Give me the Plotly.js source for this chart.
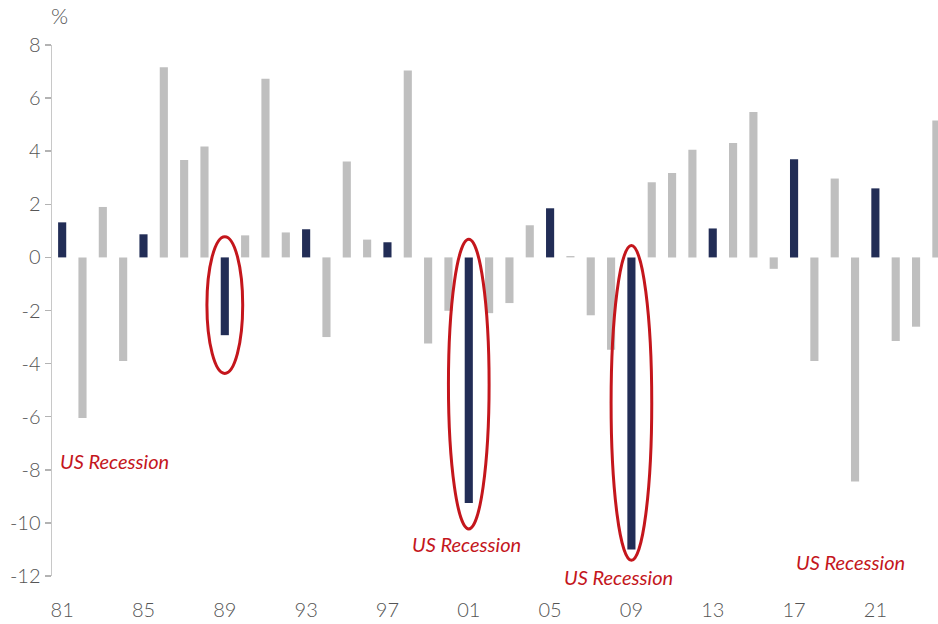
<!DOCTYPE html>
<html>
<head>
<meta charset="utf-8">
<script src="https://cdn.plot.ly/plotly-3.0.1.min.js"></script>
<style>
  html, body { margin: 0; padding: 0; background: #ffffff; }
  #chart { width: 938px; height: 624px; }
</style>
</head>
<body>
<div id="chart"></div>
<script>
// Annual change, %, 1981-2024
const years = [
  1981, 1982, 1983, 1984, 1985, 1986, 1987, 1988, 1989, 1990, 1991,
  1992, 1993, 1994, 1995, 1996, 1997, 1998, 1999, 2000, 2001, 2002,
  2003, 2004, 2005, 2006, 2007, 2008, 2009, 2010, 2011, 2012, 2013,
  2014, 2015, 2016, 2017, 2018, 2019, 2020, 2021, 2022, 2023, 2024
];
const values = [
  1.32, -6.05, 1.9, -3.9, 0.87, 7.16, 3.67, 4.18, -2.93, 0.83, 6.73,
  0.94, 1.06, -3.0, 3.61, 0.67, 0.57, 7.04, -3.24, -2.01, -9.25, -2.1,
  -1.72, 1.21, 1.85, 0.05, -2.18, -3.48, -11.0, 2.83, 3.18, 4.05, 1.09,
  4.31, 5.48, -0.43, 3.70, -3.9, 2.97, -8.44, 2.6, -3.15, -2.61, 5.16
];
// Years drawn in the dark colour
const highlightYears = [1981, 1985, 1989, 1993, 1997, 2001, 2005, 2009, 2013, 2017, 2021];
// Bottom axis labels
const tickYears = [1981, 1985, 1989, 1993, 1997, 2001, 2005, 2009, 2013, 2017, 2021];
const tickLabels = ['81', '85', '89', '93', '97', '01', '05', '09', '13', '17', '21'];
// Left axis ticks
const yTicks = [-12, -10, -8, -6, -4, -2, 0, 2, 4, 6, 8];
const yTickLabels = ['-12', '-10', '-8', '-6', '-4', '-2', '0', '2', '4', '6', '8'];
// Years circled as recessions
const recessionYears = [1989, 2001, 2009];
const recessionLabel = 'US Recession';

const NAVY = '#222d56';
const GREY = '#bfbfbf';
const RED = '#c4161c';
const TEXT = '#555555';
const AXIS = '#b3b3b3';

const xRange = [1980.5, 2024.08];
const yRange = [-12, 8];

const barColors = years.map(y => highlightYears.includes(y) ? NAVY : GREY);

// ring geometry around each circled bar (half-width in years, space above zero and below the bar)
const ringStyle = {
  1989: {half: 0.88, above: 0.78, below: 1.44},
  2001: {half: 1.0, above: 0.68, below: 0.98},
  2009: {half: 1.0, above: 0.45, below: 0.41}
};
const shapes = recessionYears.map(y => {
  const v = values[years.indexOf(y)];
  const s = ringStyle[y];
  return {
    type: 'circle', xref: 'x', yref: 'y', layer: 'above',
    x0: y - s.half, x1: y + s.half,
    y0: v - s.below, y1: s.above,
    line: {color: RED, width: 3}
  };
});

// label placement (data coordinates, with a pixel nudge where needed)
const labelSpots = [
  {x: 1983.57, y: -7.65, shift: 0},
  {x: 2000.9, y: -10.81, shift: 0},
  {x: 2008.36, y: -11.6, shift: -12},
  {x: 2019.79, y: -11.48, shift: 0}
];
const annotations = labelSpots.map(p => ({
  x: p.x, y: p.y, xref: 'x', yref: 'y', yshift: p.shift,
  text: recessionLabel, showarrow: false,
  xanchor: 'center', yanchor: 'middle',
  font: {family: 'Lato, "Open Sans", sans-serif', size: 20, color: RED, style: 'italic'}
}));
annotations.push({
  x: 0.009, y: 1.055, xref: 'paper', yref: 'paper',
  text: '%', showarrow: false, xanchor: 'center', yanchor: 'middle',
  font: {family: 'Lato, sans-serif', size: 22, color: TEXT, weight: 300}
});

const boundaryTicks = tickYears.slice(1).map(y => y - 0.5);

const trace = {
  type: 'bar',
  x: years,
  y: values,
  marker: {color: barColors, line: {width: 0}},
  hoverinfo: 'x+y'
};

const layout = {
  width: 938,
  height: 624,
  margin: {l: 52, r: 0, t: 45, b: 48, pad: 0},
  paper_bgcolor: '#ffffff',
  plot_bgcolor: '#ffffff',
  showlegend: false,
  bargap: 0.6,
  font: {family: 'Lato, sans-serif', color: TEXT},
  xaxis: {
    type: 'linear',
    range: xRange,
    tickmode: 'array',
    tickvals: tickYears,
    ticktext: tickLabels,
    ticks: '',
    showline: false,
    showgrid: false,
    zeroline: false,
    ticklabelstandoff: 20,
    tickfont: {family: 'Lato, sans-serif', size: 20, color: TEXT, weight: 300},
    fixedrange: true
  },
  xaxis2: {
    type: 'linear',
    overlaying: 'x',
    anchor: 'free',
    position: 0.6,
    range: xRange,
    tickmode: 'array',
    tickvals: boundaryTicks,
    ticks: 'outside',
    ticklen: 6,
    tickwidth: 1.5,
    tickcolor: '#999999',
    showticklabels: false,
    showline: true,
    linecolor: AXIS,
    linewidth: 2,
    showgrid: false,
    zeroline: false,
    layer: 'below traces',
    fixedrange: true
  },
  yaxis: {
    range: yRange,
    tickmode: 'array',
    tickvals: yTicks,
    ticktext: yTickLabels,
    ticks: 'outside',
    ticklen: 6,
    tickwidth: 1.5,
    tickcolor: AXIS,
    showline: true,
    linecolor: '#c8c8c8',
    linewidth: 1.5,
    showgrid: false,
    zeroline: false,
    tickfont: {family: 'Lato, sans-serif', size: 20, color: TEXT, weight: 300},
    fixedrange: true
  },
  shapes: shapes,
  annotations: annotations
};

Plotly.newPlot('chart', [trace], layout, {displayModeBar: false, staticPlot: true});
</script>
</body>
</html>
